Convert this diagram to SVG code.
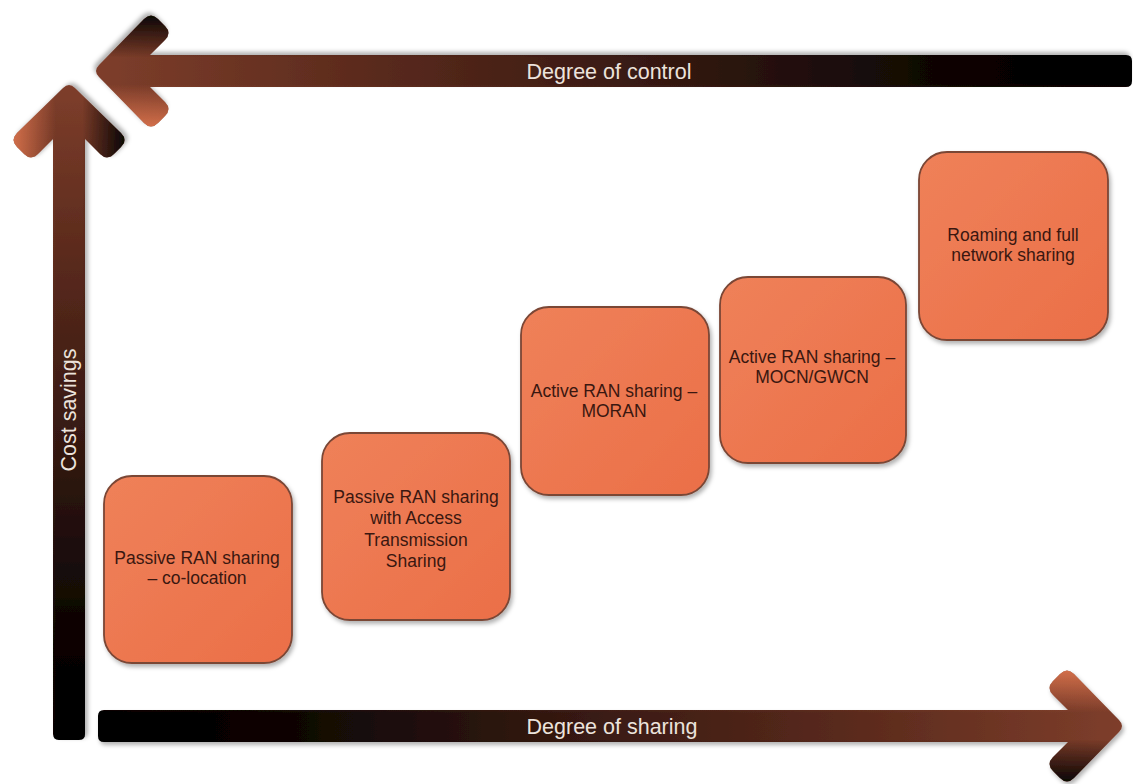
<svg xmlns="http://www.w3.org/2000/svg" width="1133" height="784" viewBox="0 0 1133 784">
  <defs>
    <!-- arrow body: black tail fading to copper-brown head -->
    <linearGradient id="arrowBase" x1="0" y1="0" x2="1" y2="0">
      <stop offset="0" stop-color="#000000"/>
      <stop offset="0.15" stop-color="#080302"/>
      <stop offset="0.45" stop-color="#341811"/>
      <stop offset="0.75" stop-color="#5c2b1d"/>
      <stop offset="1" stop-color="#7e3e2b"/>
    </linearGradient>
    <!-- cross shading: light orange on one barb, dark on the other -->
    <linearGradient id="arrowShade" x1="0" y1="0" x2="0" y2="1">
      <stop offset="0" stop-color="#f08055" stop-opacity="0.75"/>
      <stop offset="0.38" stop-color="#f08055" stop-opacity="0"/>
      <stop offset="0.62" stop-color="#000000" stop-opacity="0"/>
      <stop offset="1" stop-color="#000000" stop-opacity="0.9"/>
    </linearGradient>
    <linearGradient id="boxFill" x1="0" y1="0" x2="1" y2="1">
      <stop offset="0" stop-color="#ef8159"/>
      <stop offset="1" stop-color="#eb6f48"/>
    </linearGradient>
    <filter id="shadow" x="-10%" y="-10%" width="120%" height="130%">
      <feDropShadow dx="2" dy="3" stdDeviation="2" flood-color="#000" flood-opacity="0.3"/>
    </filter>
    <!-- arrow outlines, tail at x=0, pointing along +x -->
    <path id="shape-control"
          d="M6,-16 H982 L967,-31 Q960,-38 967,-45 L974,-52 Q981,-59 988,-52 L1033,-6 Q1039,0 1033,6 L988,52 Q981,59 974,52 L967,45 Q960,38 967,31 L982,16 H6 Q0,16 0,10 V-10 Q0,-16 6,-16 Z"/>
    <path id="shape-cost"
          d="M6,-16 H601 L586,-31 Q579,-38 586,-45 L593,-52 Q600,-59 607,-52 L652,-6 Q658,0 652,6 L607,52 Q600,59 593,52 L586,45 Q579,38 586,31 L601,16 H6 Q0,16 0,10 V-10 Q0,-16 6,-16 Z"/>
    <path id="shape-sharing"
          d="M6,-16 H970 L955,-31 Q948,-38 955,-45 L962,-52 Q969,-59 976,-52 L1021,-6 Q1027,0 1021,6 L976,52 Q969,59 962,52 L955,45 Q948,38 955,31 L970,16 H6 Q0,16 0,10 V-10 Q0,-16 6,-16 Z"/>
    <style>
      .box { fill: url(#boxFill); stroke: #7a4636; stroke-width: 1.8; filter: url(#shadow); }
      .boxText { font-family: "Liberation Sans", Arial, sans-serif; font-size: 17.5px; fill: #3a1710; text-anchor: middle; }
      .axisText { font-family: "Liberation Sans", Arial, sans-serif; font-size: 21.5px; fill: #ece3dc; text-anchor: middle; }
    </style>
  </defs>

  <rect width="1133" height="784" fill="#ffffff"/>

  <g id="connectors">
    <!-- Degree of control (points left) -->
    <g id="arrow-control" transform="translate(1132,71) rotate(180)" filter="url(#shadow)">
      <use href="#shape-control" fill="url(#arrowBase)"/>
      <use href="#shape-control" fill="url(#arrowShade)"/>
    </g>
    <!-- Cost savings (points up) -->
    <g id="arrow-cost" transform="translate(69,740) rotate(-90)" filter="url(#shadow)">
      <use href="#shape-cost" fill="url(#arrowBase)"/>
      <use href="#shape-cost" fill="url(#arrowShade)"/>
    </g>
    <!-- Degree of sharing (points right) -->
    <g id="arrow-sharing" transform="translate(98,726)" filter="url(#shadow)">
      <use href="#shape-sharing" fill="url(#arrowBase)"/>
      <use href="#shape-sharing" fill="url(#arrowShade)"/>
    </g>
    <text class="axisText" x="609" y="79">Degree of control</text>
    <text class="axisText" x="612" y="734">Degree of sharing</text>
    <text class="axisText" transform="translate(76,410) rotate(-90)">Cost savings</text>
  </g>

  <g id="node-colocation">
    <rect class="box" x="104" y="476" width="188" height="187" rx="28"/>
    <text class="boxText" x="197" y="564">Passive RAN sharing</text>
    <text class="boxText" x="197" y="584">– co-location</text>
  </g>

  <g id="node-access-transmission">
    <rect class="box" x="322" y="433" width="188" height="187" rx="28"/>
    <text class="boxText" x="416" y="503">Passive RAN sharing</text>
    <text class="boxText" x="416" y="524">with Access</text>
    <text class="boxText" x="416" y="546">Transmission</text>
    <text class="boxText" x="416" y="567">Sharing</text>
  </g>

  <g id="node-moran">
    <rect class="box" x="521" y="307" width="188" height="188" rx="28"/>
    <text class="boxText" x="614" y="397">Active RAN sharing –</text>
    <text class="boxText" x="614" y="417">MORAN</text>
  </g>

  <g id="node-mocn">
    <rect class="box" x="720" y="277" width="186" height="186" rx="28"/>
    <text class="boxText" x="812" y="363">Active RAN sharing –</text>
    <text class="boxText" x="812" y="383">MOCN/GWCN</text>
  </g>

  <g id="node-roaming">
    <rect class="box" x="919" y="152" width="189" height="188" rx="28"/>
    <text class="boxText" x="1013" y="241">Roaming and full</text>
    <text class="boxText" x="1013" y="261">network sharing</text>
  </g>
</svg>
